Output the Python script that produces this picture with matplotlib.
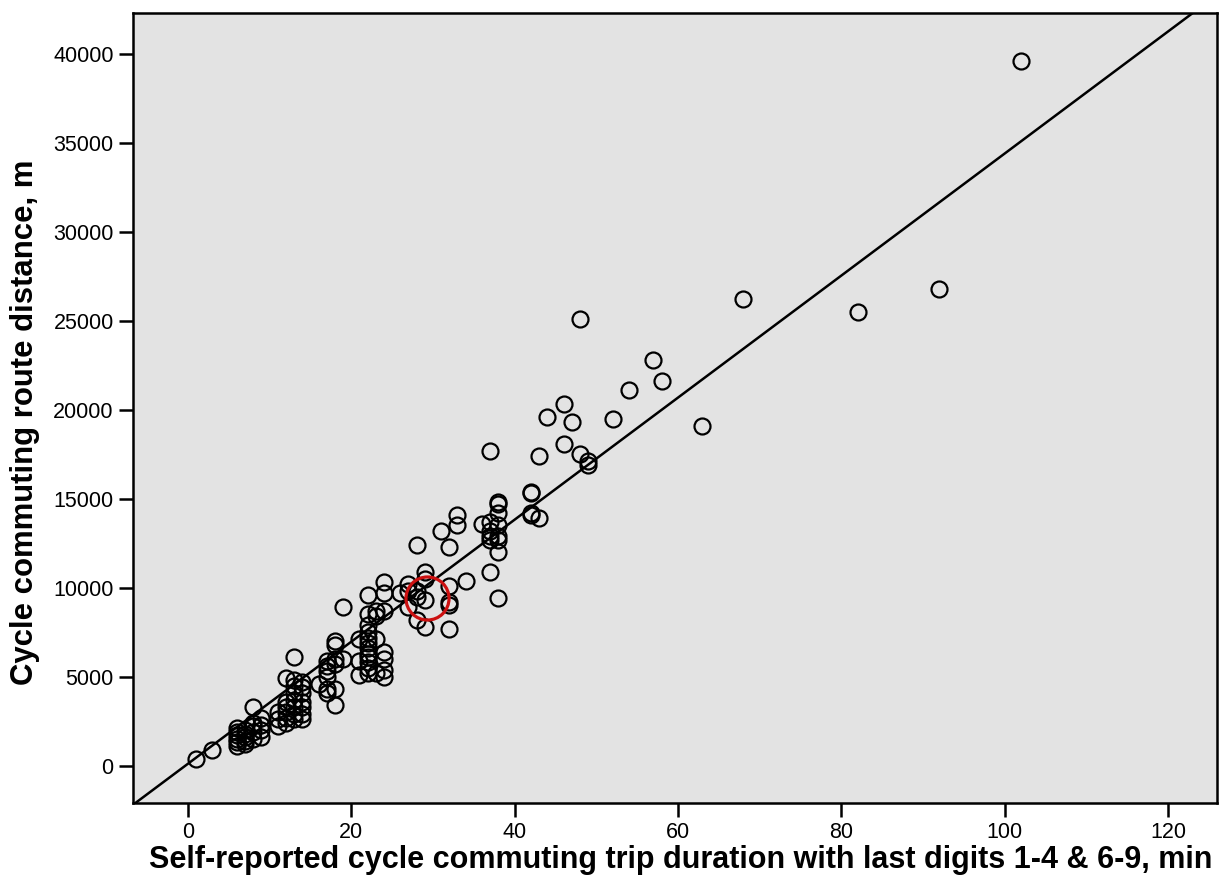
import numpy as np
import matplotlib
matplotlib.use('Agg')
import matplotlib.pyplot as plt

# trip duration (min) and route distance (m)
duration = [1, 3,
            6, 6, 6, 6, 6, 6,
            7, 7, 7, 7, 7,
            8, 8, 8, 8, 8,
            9, 9, 9, 9,
            11, 11, 11,
            12, 12, 12, 12, 12, 12,
            13, 13, 13, 13, 13, 13, 13, 13,
            14, 14, 14, 14, 14, 14, 14,
            16,
            17, 17, 17, 17, 17, 17,
            18, 18, 18, 18, 18, 18,
            19, 19,
            21, 21, 21,
            22, 22, 22, 22, 22, 22, 22, 22, 22, 22, 22, 22,
            23, 23, 23, 23,
            24, 24, 24, 24, 24, 24, 24,
            26,
            27, 27, 27,
            28, 28, 28, 28,
            29, 29, 29, 29,
            31,
            32, 32, 32, 32, 32,
            33, 33,
            34,
            36,
            37, 37, 37, 37, 37, 37,
            38, 38, 38, 38, 38, 38, 38, 38,
            42, 42, 42, 42,
            43, 43,
            44,
            46, 46,
            47,
            48, 48,
            49, 49,
            52, 54, 57, 58, 63, 68, 82, 92, 102]
distance = [400, 900,
            1100, 1300, 1500, 1700, 1900, 2100,
            1200, 1400, 1600, 1800, 2000,
            1500, 1900, 2200, 2400, 3300,
            1600, 2000, 2300, 2700,
            2200, 2600, 3000,
            2400, 2700, 3000, 3300, 3600, 4900,
            2600, 2900, 3300, 3700, 4100, 4500, 4800, 6100,
            2600, 2900, 3300, 3600, 4100, 4400, 4700,
            4600,
            4100, 4300, 5000, 5300, 5600, 5900,
            3400, 4300, 5700, 6000, 6800, 7000,
            6000, 8900,
            5100, 5900, 7100,
            5200, 5500, 5800, 6100, 6300, 6600, 6900, 7200, 7500, 7900, 8500, 9600,
            5200, 7100, 8400, 8700,
            5000, 5400, 6000, 6400, 8700, 9700, 10300,
            9700,
            8900, 9800, 10200,
            8200, 9500, 9800, 12400,
            7800, 9300, 10500, 10900,
            13200,
            7700, 9000, 9200, 10100, 12300,
            13500, 14100,
            10400,
            13600,
            10900, 12700, 12900, 13200, 13700, 17700,
            9400, 12000, 12700, 12900, 13500, 14200, 14700, 14800,
            14100, 14200, 15300, 15400,
            13900, 17400,
            19600,
            18100, 20300,
            19300,
            17500, 25100,
            16900, 17100,
            19500, 21100, 22800, 21600, 19100, 26200, 25500, 26800, 39600]

# fitted line through the cloud
fit_slope = 343.0
fit_intercept = 100.0

# highlighted point
highlight = (29.3, 9400)

x_ticks = [0, 20, 40, 60, 80, 100, 120]
y_ticks = [0, 5000, 10000, 15000, 20000, 25000, 30000, 35000, 40000]

plt.rcParams['font.family'] = ['Liberation Sans', 'DejaVu Sans']

fig = plt.figure(figsize=(12.21, 8.93), dpi=100)
ax = fig.add_axes([0.109, 0.1008, 0.8877, 0.8846])
ax.set_facecolor('#e3e3e3')

xmin, xmax = -6.7, 126.0
ymin, ymax = -2100, 42300

xl = np.array([xmin, xmax])
ax.plot(xl, fit_slope * xl + fit_intercept, color='black', lw=1.8, zorder=2)

ax.plot(duration, distance, 'o', mfc='none', mec='black', ms=11.5, mew=1.6, zorder=3)

ax.plot(highlight[0], highlight[1], 'o', mfc='none', mec='#cc1111', ms=31, mew=2.3, zorder=4)

ax.set_xlim(xmin, xmax)
ax.set_ylim(ymin, ymax)
ax.set_xticks(x_ticks)
ax.set_yticks(y_ticks)
ax.tick_params(direction='out', length=10, width=1.8, labelsize=15.5, pad=4)
for s in ax.spines.values():
    s.set_linewidth(1.8)

ax.set_xlabel('Self-reported cycle commuting trip duration with last digits 1-4 & 6-9, min',
              fontsize=22, fontweight='bold')
ax.set_ylabel('Cycle commuting route distance, m', fontsize=22.4, fontweight='bold')
ax.xaxis.set_label_coords(0.505, -0.053)
ax.yaxis.set_label_coords(-0.086, 0.482)

fig.savefig('out.png', dpi=100)
